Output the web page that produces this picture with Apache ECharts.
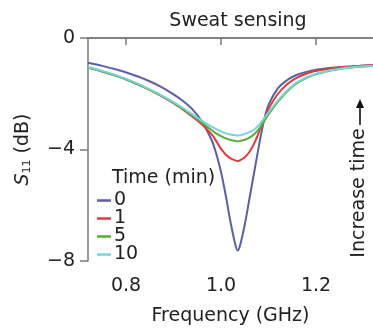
<!DOCTYPE html>
<html>
<head>
<meta charset="utf-8">
<script src="https://cdn.jsdelivr.net/npm/echarts@6/dist/echarts.min.js"></script>
<style>html,body{margin:0;padding:0;background:#fff}#c{width:373px;height:331px}</style>
</head>
<body>
<div id="c"></div>
<script>
const freq = [0.72, 0.75, 0.78, 0.81, 0.84, 0.87, 0.90, 0.92, 0.94, 0.96, 0.98, 0.99, 1.00, 1.01, 1.02, 1.03, 1.035, 1.04, 1.05, 1.06, 1.07, 1.08, 1.09, 1.10, 1.12, 1.14, 1.16, 1.19, 1.22, 1.26, 1.29, 1.32];
const s0 = [-0.89, -1.00, -1.13, -1.29, -1.48, -1.72, -2.02, -2.26, -2.56, -3.0, -3.65, -4.15, -4.8, -5.65, -6.6, -7.4, -7.62, -7.45, -6.7, -5.75, -4.8, -3.85, -3.0, -2.4, -1.8, -1.5, -1.32, -1.17, -1.09, -1.03, -1.0, -0.98];
const s1 = [-1.06, -1.2, -1.36, -1.55, -1.78, -2.04, -2.34, -2.57, -2.82, -3.1, -3.45, -3.7, -3.98, -4.18, -4.32, -4.39, -4.41, -4.39, -4.28, -4.08, -3.78, -3.38, -2.95, -2.55, -2.0, -1.65, -1.42, -1.22, -1.12, -1.04, -1.0, -0.98];
const s5 = [-1.06, -1.2, -1.36, -1.55, -1.78, -2.03, -2.32, -2.54, -2.78, -3.04, -3.3, -3.42, -3.52, -3.6, -3.66, -3.69, -3.7, -3.69, -3.65, -3.57, -3.45, -3.26, -3.0, -2.74, -2.28, -1.9, -1.62, -1.36, -1.21, -1.09, -1.03, -1.0];
const s10 = [-1.04, -1.18, -1.34, -1.53, -1.76, -2.01, -2.3, -2.51, -2.74, -2.97, -3.18, -3.27, -3.35, -3.42, -3.46, -3.49, -3.5, -3.49, -3.45, -3.38, -3.28, -3.12, -2.9, -2.67, -2.24, -1.87, -1.59, -1.34, -1.2, -1.08, -1.02, -1.0];
const seriesNames = ['0', '1', '5', '10'];
const seriesValues = [s0, s1, s5, s10];
const colors = ['#5c5fa3', '#e03a3e', '#5aaa3a', '#75d5d8'];
const xTicks = [0.8, 1.0, 1.2];

const FONT = 'DejaVu Sans';
const FS = 19;
const TXT = '#222';
const AX = '#7a7a7a';

const chart = echarts.init(document.getElementById('c'), null, {renderer: 'canvas'});
chart.setOption({
  animation: false,
  backgroundColor: '#fff',
  textStyle: {fontFamily: FONT},
  grid: {left: 88, top: 38, right: 0, bottom: 65},
  legend: {
    orient: 'vertical', left: 92, top: 186, itemWidth: 14, itemHeight: 2.5, itemGap: -1,
    icon: 'rect', data: seriesNames,
    textStyle: {fontFamily: FONT, fontSize: FS, color: TXT, padding: [0, 0, 0, -2]}
  },
  xAxis: [{
    type: 'value', min: 0.72, max: 1.32,
    name: 'Frequency (GHz)', nameLocation: 'middle', nameGap: 46,
    nameTextStyle: {fontFamily: FONT, fontSize: FS, color: TXT},
    axisLine: {lineStyle: {color: AX, width: 1.5}},
    axisTick: {show: true, length: 7, customValues: xTicks, lineStyle: {color: AX, width: 1.5}},
    axisLabel: {customValues: xTicks, margin: 16, fontFamily: FONT, fontSize: FS, color: TXT,
      formatter: v => v.toFixed(1)},
    splitLine: {show: false}
  }, {
    type: 'value', position: 'top', min: 0.72, max: 1.32,
    axisLine: {show: true, onZero: false, lineStyle: {color: AX, width: 1.5}},
    axisTick: {show: false}, axisLabel: {show: false}, splitLine: {show: false}
  }],
  yAxis: {
    type: 'value', min: -8, max: 0, interval: 4,
    name: '{s|S}{sub|11} (dB)', nameLocation: 'middle', nameGap: 55, nameRotate: 90,
    nameTextStyle: {fontFamily: FONT, fontSize: FS, color: TXT,
      rich: {
        s: {fontFamily: FONT, fontSize: FS, fontStyle: 'italic', color: TXT},
        sub: {fontFamily: FONT, fontSize: 11, color: TXT, verticalAlign: 'bottom', padding: [8, 0, 0, 0]}
      }},
    axisLine: {show: true, lineStyle: {color: AX, width: 1.5}},
    axisTick: {show: true, length: 8, lineStyle: {color: AX, width: 1.5}},
    axisLabel: {margin: 13, fontFamily: FONT, fontSize: FS, color: TXT,
      formatter: v => (v < 0 ? '\u2212' + Math.abs(v) : String(v))},
    splitLine: {show: false}
  },
  series: seriesNames.map((n, i) => ({
    name: n, type: 'line', smooth: 0.3, showSymbol: false,
    data: freq.map((f, j) => [f, seriesValues[i][j]]),
    lineStyle: {color: colors[i], width: 2},
    itemStyle: {color: colors[i]}
  })),
  graphic: [
    {type: 'text', x: 238, y: 21, style: {text: 'Sweat sensing', font: FS + 'px "DejaVu Sans"', fill: TXT, align: 'center', verticalAlign: 'middle'}},
    {type: 'text', x: 112, y: 178, style: {text: 'Time (min)', font: FS + 'px "DejaVu Sans"', fill: TXT, align: 'left', verticalAlign: 'middle'}},
    {type: 'text', x: 359, y: 193, rotation: Math.PI / 2, style: {text: 'Increase time', font: FS + 'px "DejaVu Sans"', fill: TXT, align: 'center', verticalAlign: 'middle'}},
    {type: 'line', shape: {x1: 360, y1: 125, x2: 360, y2: 104}, style: {stroke: '#111', lineWidth: 1.6}},
    {type: 'polygon', shape: {points: [[360, 99], [356, 108], [364, 108]]}, style: {fill: '#111'}}
  ]
});
</script>
</body>
</html>
